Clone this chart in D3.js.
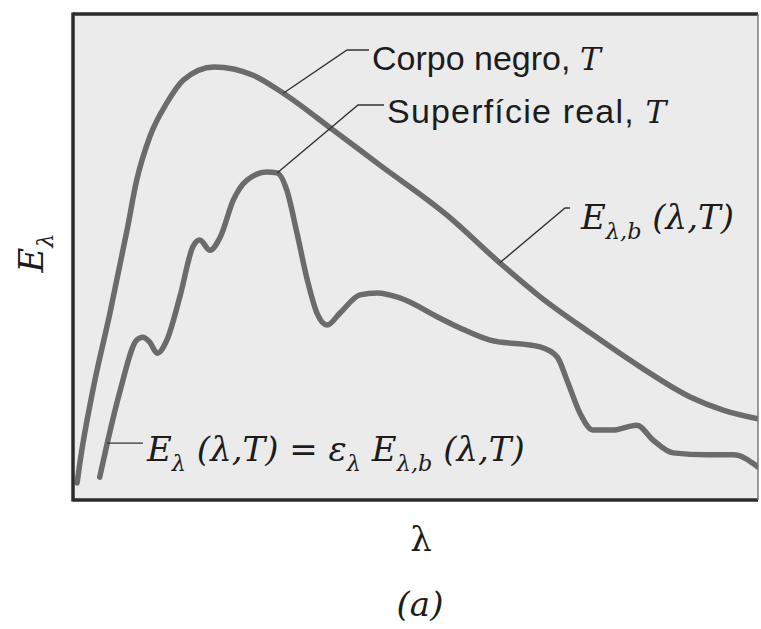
<!DOCTYPE html>
<html>
<head>
<meta charset="utf-8">
<script src="https://cdn.jsdelivr.net/npm/d3@7"></script>
<style>
  html, body { margin: 0; padding: 0; background: #ffffff; }
  svg { display: block; }
</style>
</head>
<body>
<svg id="chart" width="761" height="629"></svg>
<script>
// Spectral emissive power vs. wavelength (relative units, 0–100 on both axes)

// Blackbody curve E_λ,b(λ,T)
const blackLambda = [0.6, 1.0, 2.9, 5.4, 7.9, 9.3, 11.2, 13.7, 16.1, 20.6, 26.3, 30.7, 38.0, 44.8, 54.6, 62.3, 68.2, 75.5, 82.8, 90.1, 94.9, 100.0];
const blackE      = [3.5, 7.6, 22.6, 38.5, 55.6, 65.8, 74.7, 81.7, 86.4, 89.1, 87.4, 83.7, 76.1, 68.9, 58.6, 48.8, 41.8, 34.4, 27.4, 21.2, 18.5, 16.7];

// Real surface curve E_λ(λ,T) = ε_λ E_λ,b(λ,T)
const realLambda = [3.9, 5.0, 6.9, 9.3, 10.2, 11.2, 12.3, 13.7, 15.6, 17.5, 18.5, 20.0, 21.5, 23.4, 25.4, 28.3, 29.8, 31.2, 32.7, 34.2, 35.6, 37.1, 39.0, 41.9, 44.4, 47.7, 53.6, 56.5, 60.9, 68.2, 70.7, 72.1, 74.0, 75.9, 78.8, 82.3, 84.7, 87.6, 92.6, 96.4, 100.0];
const realE      = [4.7, 11.7, 22.6, 32.9, 33.5, 32.5, 30.2, 32.9, 41.8, 52.1, 53.5, 51.4, 54.1, 61.7, 65.8, 67.5, 67.3, 63.8, 54.9, 45.3, 38.5, 36.0, 38.5, 42.2, 42.6, 41.6, 37.4, 35.4, 32.9, 31.5, 29.4, 24.7, 17.9, 14.4, 14.4, 15.4, 12.3, 9.7, 9.3, 9.3, 6.8];

// Axis titles and caption
const yTitle = [{ t: "E", it: true }, { t: "λ", sub: true, it: true }];
const xTitle = "λ";
const caption = "(a)";

// Curve labels
const labelBlack = [{ t: "Corpo negro, " }, { t: "T", serif: true, it: true }];
const labelReal  = [{ t: "Superfície real, " }, { t: "T", serif: true, it: true }];
const labelEb    = [{ t: "E", it: true }, { t: "λ,b", sub: true, it: true }, { t: " (λ,T)", it: true }];
const labelEq    = [{ t: "E", it: true }, { t: "λ", sub: true, it: true }, { t: " (λ,T) = ε", it: true }, { t: "λ", sub: true, it: true }, { t: " E", it: true }, { t: "λ,b", sub: true, it: true }, { t: " (λ,T)", it: true }];

const svg = d3.select("#chart");
const frame = { left: 73, top: 14, right: 758, bottom: 500 };

const x = d3.scaleLinear().domain([0, 100]).range([frame.left, frame.right]);
const y = d3.scaleLinear().domain([0, 100]).range([frame.bottom, frame.top]);

// Plot background
svg.append("rect")
  .attr("x", frame.left).attr("y", frame.top)
  .attr("width", frame.right - frame.left).attr("height", frame.bottom - frame.top)
  .attr("fill", "#ebebeb");

svg.append("defs").append("clipPath").attr("id", "plotClip")
  .append("rect")
  .attr("x", frame.left).attr("y", frame.top)
  .attr("width", frame.right - frame.left).attr("height", frame.bottom - frame.top);

const line = d3.line()
  .x(d => x(d[0])).y(d => y(d[1]))
  .curve(d3.curveMonotoneX);

const blackPts = blackLambda.map((l, i) => [l, blackE[i]]);
const realPts = realLambda.map((l, i) => [l, realE[i]]);

const curves = svg.append("g").attr("clip-path", "url(#plotClip)");
[blackPts, realPts].forEach(pts => {
  curves.append("path")
    .datum(pts)
    .attr("d", line)
    .attr("fill", "none")
    .attr("stroke", "#6b6b6b")
    .attr("stroke-width", 5.5)
    .attr("stroke-linejoin", "round")
    .attr("stroke-linecap", "round");
});

// Frame: heavy top, bottom and left edges, light right edge
const frameG = svg.append("g");
frameG.append("line").attr("x1", frame.left).attr("x2", frame.right)
  .attr("y1", frame.top).attr("y2", frame.top)
  .attr("stroke", "#2b2b2b").attr("stroke-width", 3.5);
frameG.append("line").attr("x1", frame.left).attr("x2", frame.right)
  .attr("y1", frame.bottom).attr("y2", frame.bottom)
  .attr("stroke", "#2b2b2b").attr("stroke-width", 3.5);
frameG.append("line").attr("x1", frame.left).attr("x2", frame.left)
  .attr("y1", frame.top - 1.5).attr("y2", frame.bottom + 1.5)
  .attr("stroke", "#2b2b2b").attr("stroke-width", 3.5);
frameG.append("line").attr("x1", frame.right).attr("x2", frame.right)
  .attr("y1", frame.top).attr("y2", frame.bottom)
  .attr("stroke", "#7a7a7a").attr("stroke-width", 1.5);

const SANS = "'Liberation Sans', Arial, sans-serif";
const SERIF = "'DejaVu Serif', 'Liberation Serif', serif";

// Builds a text element from parts with optional subscripts / serif italics
function richText(g, parts, opts) {
  const txt = g.append("text")
    .attr("x", opts.x).attr("y", opts.y)
    .attr("font-family", opts.family)
    .attr("font-size", opts.size)
    .attr("fill", "#1c1c1c")
    .attr("text-anchor", opts.anchor || "start");
  if (opts.transform) txt.attr("transform", opts.transform);
  if (opts.spacing) txt.attr("letter-spacing", opts.spacing);
  let down = 0;
  const subShift = Math.round(opts.size * 0.3);
  parts.forEach(p => {
    const ts = txt.append("tspan").text(p.t);
    const target = p.sub ? subShift : 0;
    if (target !== down) { ts.attr("dy", target - down); down = target; }
    if (p.sub) ts.attr("font-size", opts.size * 0.66);
    if (p.it) ts.attr("font-style", "italic");
    if (p.serif) ts.attr("font-family", SERIF).attr("font-size", opts.size * 0.92);
  });
  return txt;
}

// Leader lines from curve points to their labels
const leaders = [
  { pts: blackPts, idx: 11, elbow: [347, 50], end: 369 },
  { pts: realPts, idx: 16, elbow: [358, 105], end: 384 },
  { pts: blackPts, idx: 15, elbow: [565, 208], end: 570 }
];
const ann = svg.append("g");
leaders.forEach(a => {
  const p = a.pts[a.idx];
  ann.append("path")
    .attr("d", `M${x(p[0])},${y(p[1])}L${a.elbow[0]},${a.elbow[1]}L${a.end},${a.elbow[1]}`)
    .attr("fill", "none").attr("stroke", "#333").attr("stroke-width", 1.4);
});
{
  const p = realPts[1];
  ann.append("line")
    .attr("x1", x(p[0])).attr("y1", y(p[1]))
    .attr("x2", 143).attr("y2", y(p[1]))
    .attr("stroke", "#333").attr("stroke-width", 1.4);
}

richText(ann, labelBlack, { x: 372, y: 70, family: SANS, size: 34 });
richText(ann, labelReal, { x: 387, y: 123, family: SANS, size: 34, spacing: 1.2 });
richText(ann, labelEb, { x: 581, y: 229, family: SERIF, size: 34 });
richText(ann, labelEq, { x: 147, y: 461, family: SERIF, size: 34 });

// Axis titles and caption
richText(svg, yTitle, { x: 0, y: 0, family: SERIF, size: 34, anchor: "middle", transform: "translate(43,253) rotate(-90)" });
svg.append("text").attr("x", 421).attr("y", 551)
  .attr("font-family", SERIF).attr("font-size", 34)
  .attr("text-anchor", "middle").attr("fill", "#1c1c1c").text(xTitle);
svg.append("text").attr("x", 420).attr("y", 616)
  .attr("font-family", SERIF).attr("font-size", 34).attr("font-style", "italic")
  .attr("text-anchor", "middle").attr("fill", "#1c1c1c").text(caption);
</script>
</body>
</html>
